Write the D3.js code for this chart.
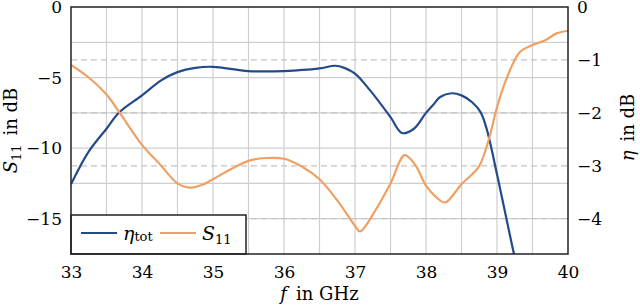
<!DOCTYPE html>
<html>
<head>
<meta charset="utf-8">
<script src="https://cdn.jsdelivr.net/npm/d3@7"></script>
</head>
<body style="margin:0">
<svg id="chart" width="640" height="308"></svg>
<script>
// S11 (left axis, dB)
const s11Freq = [33.0, 33.24, 33.5, 33.68, 34.0, 34.27, 34.5, 34.68, 34.85, 35.0, 35.25, 35.5, 35.75, 36.0, 36.25, 36.5, 36.75, 37.0, 37.07, 37.3, 37.5, 37.7, 37.85, 38.0, 38.15, 38.27, 38.5, 38.74, 38.88, 39.0, 39.14, 39.32, 39.5, 39.68, 39.84, 40.0];
const s11Vals = [-4.1, -4.96, -6.2, -7.45, -9.77, -11.24, -12.5, -12.8, -12.6, -12.2, -11.5, -10.9, -10.7, -10.75, -11.3, -12.2, -13.7, -15.5, -15.9, -14.3, -12.5, -10.5, -11.2, -12.66, -13.5, -13.85, -12.55, -11.35, -9.46, -7.1, -5.0, -3.2, -2.7, -2.35, -1.87, -1.68];

// eta_tot (right axis, dB)
const etaFreq = [33.0, 33.24, 33.5, 33.68, 34.0, 34.27, 34.5, 34.75, 35.0, 35.5, 36.0, 36.5, 36.72, 36.85, 37.0, 37.21, 37.5, 37.66, 37.83, 38.0, 38.1, 38.2, 38.36, 38.5, 38.65, 38.77, 38.86, 39.0, 39.24, 39.3];
const etaVals = [-3.35, -2.75, -2.3, -1.99, -1.67, -1.385, -1.23, -1.15, -1.13, -1.21, -1.21, -1.16, -1.11, -1.15, -1.26, -1.57, -2.08, -2.38, -2.3, -2.0, -1.85, -1.7, -1.63, -1.67, -1.8, -1.99, -2.33, -3.16, -4.67, -5.0];

// Axis ticks
const xTicks = [33, 34, 35, 36, 37, 38, 39, 40];
const leftTicks = [0, -5, -10, -15];
const rightTicks = [0, -1, -2, -3, -4];

const blue = "#234b8a";
const orange = "#f0a062";
const serif = "'DejaVu Serif'";

function drawChart() {
  const svg = d3.select("#chart");
  const margin = { top: 7, right: 72, bottom: 54, left: 71 };
  const width = +svg.attr("width") - margin.left - margin.right;
  const height = +svg.attr("height") - margin.top - margin.bottom;

  const x = d3.scaleLinear().domain([33, 40]).range([0, width]);
  const yL = d3.scaleLinear().domain([-17.5, 0]).range([height, 0]);
  const yR = d3.scaleLinear().domain([-17.5 / 3.75, 0]).range([height, 0]);

  const g = svg.append("g").attr("transform", `translate(${margin.left},${margin.top})`);

  g.append("clipPath").attr("id", "clip")
    .append("rect").attr("width", width).attr("height", height);

  // Grid: every 0.5 GHz and 2.5 dB
  g.append("g")
    .selectAll("line")
    .data(d3.range(33.5, 40, 0.5))
    .join("line")
    .attr("x1", d => x(d)).attr("x2", d => x(d))
    .attr("y1", 0).attr("y2", height)
    .attr("stroke", "#cfcfcf").attr("stroke-width", 1.2);

  g.append("g")
    .selectAll("line")
    .data(d3.range(-15, 0, 2.5))
    .join("line")
    .attr("x1", 0).attr("x2", width)
    .attr("y1", d => yL(d)).attr("y2", d => yL(d))
    .attr("stroke", "#cfcfcf").attr("stroke-width", 1.2);

  // dashed lines at right-axis ticks
  g.append("g")
    .selectAll("line")
    .data(rightTicks.filter(d => d < 0))
    .join("line")
    .attr("x1", 0).attr("x2", width)
    .attr("y1", d => yR(d)).attr("y2", d => yR(d))
    .attr("stroke", "#c4c4c4").attr("stroke-width", 1.2)
    .attr("stroke-dasharray", "6,4");

  // Curves
  const s11Data = s11Freq.map((f, i) => ({ f: f, v: s11Vals[i] }));
  const etaData = etaFreq.map((f, i) => ({ f: f, v: etaVals[i] }));

  const lineL = d3.line().x(d => x(d.f)).y(d => yL(d.v)).curve(d3.curveCatmullRom.alpha(0.5));
  const lineR = d3.line().x(d => x(d.f)).y(d => yR(d.v)).curve(d3.curveCatmullRom.alpha(0.5));

  const curves = g.append("g").attr("clip-path", "url(#clip)");
  curves.append("path").datum(etaData)
    .attr("d", lineR).attr("fill", "none")
    .attr("stroke", blue).attr("stroke-width", 2.2);
  curves.append("path").datum(s11Data)
    .attr("d", lineL).attr("fill", "none")
    .attr("stroke", orange).attr("stroke-width", 2.2);

  // Axes
  const minus = d => d3.format("d")(d).replace("-", "\u2212");
  const xAxis = d3.axisBottom(x).tickValues(xTicks).tickSize(0).tickPadding(12).tickFormat(d3.format("d"));
  const leftAxis = d3.axisLeft(yL).tickValues(leftTicks).tickSize(0).tickPadding(9).tickFormat(minus);
  const rightAxis = d3.axisRight(yR).tickValues(rightTicks).tickSize(0).tickPadding(9).tickFormat(minus);

  [g.append("g").attr("transform", `translate(0,${height})`).call(xAxis),
   g.append("g").call(leftAxis),
   g.append("g").attr("transform", `translate(${width},0)`).call(rightAxis)]
    .forEach(a => {
      a.attr("font-family", null).attr("font-size", null);
      a.select(".domain").remove();
      a.selectAll("text")
        .style("font-family", serif)
        .style("font-size", "17px")
        .attr("fill", "#000");
    });

  // Legend box
  const lg = g.append("g").attr("transform", `translate(0,${height - 39})`);
  lg.append("rect").attr("width", 175).attr("height", 39)
    .attr("fill", "#fff").attr("stroke", "#222").attr("stroke-width", 1.5);
  lg.append("line").attr("x1", 10).attr("x2", 46).attr("y1", 18).attr("y2", 18)
    .attr("stroke", blue).attr("stroke-width", 2.2);
  const t1 = lg.append("text").attr("x", 52).attr("y", 25)
    .style("font-family", serif).style("font-size", "19px");
  t1.append("tspan").style("font-style", "italic").text("\u03b7");
  t1.append("tspan").attr("dy", 1).style("font-size", "13px").text("tot");
  lg.append("line").attr("x1", 89).attr("x2", 125).attr("y1", 18).attr("y2", 18)
    .attr("stroke", orange).attr("stroke-width", 2.2);
  const t2 = lg.append("text").attr("x", 131).attr("y", 25)
    .style("font-family", serif).style("font-size", "19px");
  t2.append("tspan").style("font-style", "italic").text("S");
  t2.append("tspan").attr("dy", 4).style("font-size", "13px").text("11");

  // Frame
  g.append("rect").attr("width", width).attr("height", height)
    .attr("fill", "none").attr("stroke", "#222").attr("stroke-width", 1.5);

  // Axis labels
  const xl = svg.append("text").attr("x", margin.left + width / 2).attr("y", 300)
    .attr("text-anchor", "middle")
    .style("font-family", serif).style("font-size", "18px");
  xl.append("tspan").style("font-style", "italic").text("f");
  xl.append("tspan").text("\u2002in GHz");

  const yl = svg.append("text")
    .attr("transform", `translate(17,${margin.top + height / 2}) rotate(-90)`)
    .attr("text-anchor", "middle")
    .style("font-family", serif).style("font-size", "18px");
  yl.append("tspan").style("font-style", "italic").text("S");
  yl.append("tspan").attr("dy", 4).style("font-size", "13px").text("11");
  yl.append("tspan").attr("dy", -4).text("\u2002in dB");

  const yr = svg.append("text")
    .attr("transform", `translate(634,${margin.top + height / 2 - 3}) rotate(-90)`)
    .attr("text-anchor", "middle")
    .style("font-family", serif).style("font-size", "18px");
  yr.append("tspan").style("font-style", "italic").text("\u03b7");
  yr.append("tspan").text("\u2002in dB");
}

drawChart();
</script>
</body>
</html>
